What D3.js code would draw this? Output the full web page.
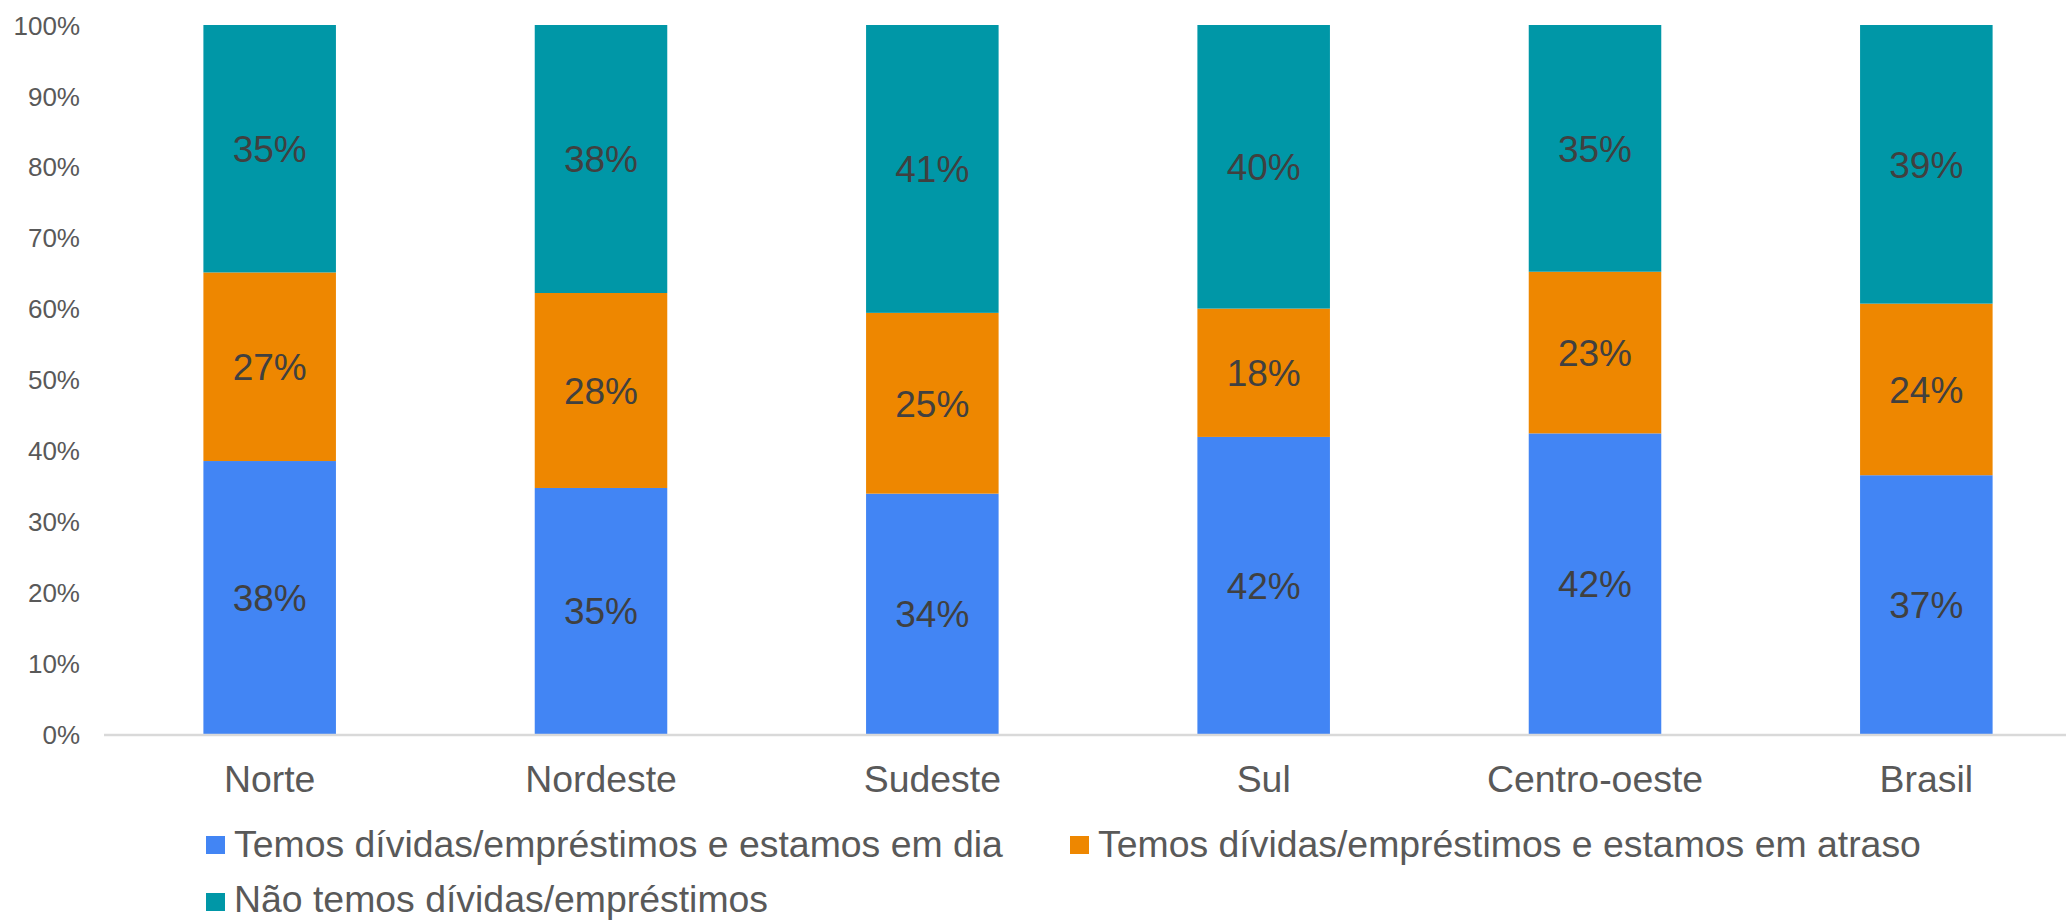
<!DOCTYPE html>
<html>
<head>
<meta charset="utf-8">
<script src="https://cdn.jsdelivr.net/npm/d3@7"></script>
<style>
  html, body { margin: 0; padding: 0; background: #fff; }
  svg { display: block; font-family: "Liberation Sans", Arial, sans-serif; }
</style>
</head>
<body>
<svg id="chart" width="2066" height="920"></svg>
<script>
const categories = ["Norte", "Nordeste", "Sudeste", "Sul", "Centro-oeste", "Brasil"];
const seriesNames = [
  "Temos dívidas/empréstimos e estamos em dia",
  "Temos dívidas/empréstimos e estamos em atraso",
  "Não temos dívidas/empréstimos"
];
const emDia    = [38.5, 34.7, 33.9, 41.9, 42.4, 36.5];
const atraso   = [26.6, 27.5, 25.5, 18.1, 22.8, 24.2];
const naoTemos = [34.9, 37.8, 40.6, 40.0, 34.8, 39.3];
const dataLabels = [
  ["38%", "35%", "34%", "42%", "42%", "37%"],
  ["27%", "28%", "25%", "18%", "23%", "24%"],
  ["35%", "38%", "41%", "40%", "35%", "39%"]
];
const yTicks = [0, 10, 20, 30, 40, 50, 60, 70, 80, 90, 100];
const colors = ["#4285F4", "#EE8700", "#0097A7"];

const svg = d3.select("#chart");
const plot = { left: 104, right: 2092, top: 25, bottom: 734 };

const rows = categories.map((c, i) => ({ cat: c, s0: emDia[i], s1: atraso[i], s2: naoTemos[i] }));
const stack = d3.stack().keys(["s0", "s1", "s2"])(rows);

const x = d3.scaleBand().domain(categories).range([plot.left, plot.right])
  .paddingInner(0.6).paddingOuter(0.3);
const y = d3.scaleLinear().domain([0, 100]).range([plot.bottom, plot.top]);

// bars
stack.forEach((layer, si) => {
  const g = svg.append("g");
  g.selectAll("rect").data(layer).enter().append("rect")
    .attr("x", d => x(d.data.cat))
    .attr("width", x.bandwidth())
    .attr("y", d => y(d[1]))
    .attr("height", d => y(d[0]) - y(d[1]))
    .attr("fill", colors[si]);
  g.selectAll("text").data(layer).enter().append("text")
    .attr("x", d => x(d.data.cat) + x.bandwidth() / 2)
    .attr("y", d => (y(d[0]) + y(d[1])) / 2)
    .attr("dy", "0.36em")
    .attr("text-anchor", "middle")
    .attr("font-size", 37)
    .attr("fill", "#404040")
    .text((d, i) => dataLabels[si][i]);
});

// y axis labels
const yAxis = d3.axisLeft(y).tickValues(yTicks).tickFormat(d => d + "%").tickSize(0).tickPadding(0);
const yg = svg.append("g").attr("transform", "translate(80,0)").call(yAxis);
yg.select(".domain").remove();
yg.selectAll("text").attr("font-size", 26).attr("fill", "#595959")
  .attr("font-family", "'Liberation Sans', Arial, sans-serif").attr("dy", "0.35em");

// x axis
const xAxis = d3.axisBottom(x).tickSize(0).tickPadding(0);
const xg = svg.append("g").attr("transform", `translate(0,${plot.bottom})`).call(xAxis);
xg.select(".domain").attr("stroke", "#D9D9D9").attr("stroke-width", 2.5)
  .attr("d", `M${plot.left},1H${plot.right}`);
xg.selectAll("text").attr("font-size", 37.4).attr("fill", "#595959")
  .attr("font-family", "'Liberation Sans', Arial, sans-serif")
  .attr("dy", 0).attr("y", 58);

// legend
const legendPos = [
  { x: 206, y: 836, ty: 857 },
  { x: 1070, y: 836, ty: 857 },
  { x: 206, y: 893, ty: 912 }
];
const lg = svg.append("g");
seriesNames.forEach((name, i) => {
  const p = legendPos[i];
  lg.append("rect").attr("x", p.x).attr("y", p.y).attr("width", 19).attr("height", 18).attr("fill", colors[i]);
  lg.append("text").attr("x", p.x + 28).attr("y", p.ty)
    .attr("font-size", 37.4).attr("fill", "#595959").text(name);
});
</script>
</body>
</html>
